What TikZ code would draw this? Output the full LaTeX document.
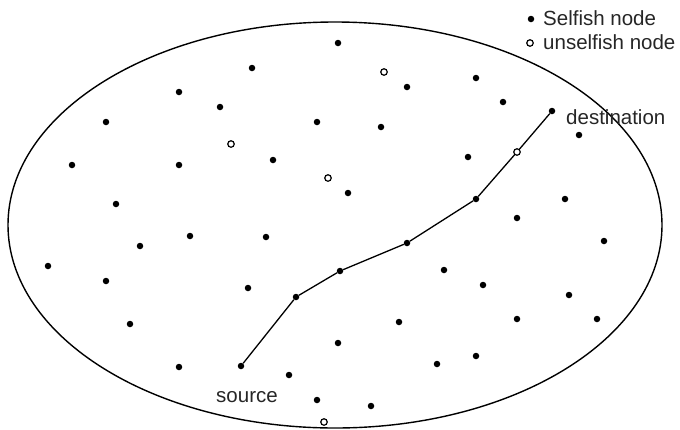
\documentclass[tikz,border=0pt]{standalone}
\usepackage{fontspec}
\setmainfont{Liberation Sans}
\begin{document}
\begin{tikzpicture}[x=1pt,y=-1pt,
  sdot/.style={circle,fill=black,inner sep=0pt,minimum size=6.5pt},
  udot/.style={circle,draw=black,fill=white,line width=1.2pt,inner sep=0pt,minimum size=6.5pt},
  lbl/.style={inner sep=0pt,font=\fontsize{20.5}{24}\selectfont,text=black!85},
  link/.style={line width=1.3pt}]
\useasboundingbox (0,0) rectangle (680,429);
\draw[line width=1.4pt] (335,225) ellipse [x radius=327, y radius=203];
% selfish nodes
\foreach \px/\py [count=\i] in {338/43,252/68,179/92,220/107,106/122,317/122,72/165,179/165,273/160,116/204,
  407/87,476/78,503/102,381/127,579/135,468/157,348/193,565/199,517/218,190/236,
  266/237,140/246,48/266,106/281,248/288,130/324,338/343,179/367,289/375,317/400,
  604/241,444/270,483/285,569/295,399/322,517/319,597/319,437/364,476/356,371/406}
  \node[sdot] (s\i) at (\px,\py) {};
% unselfish nodes
\foreach \px/\py [count=\i] in {231/144,328/178,384/72,324/422}
  \node[udot] (u\i) at (\px,\py) {};
% route
\node[sdot] (src) at (241,366) {};
\node[sdot] (r1) at (296,297) {};
\node[sdot] (r2) at (340,271) {};
\node[sdot] (r3) at (407,243) {};
\node[sdot] (r4) at (476,199) {};
\node[udot] (r5) at (517,152) {};
\node[sdot] (dst) at (552,111) {};
\draw[link] (src) -- (r1) -- (r2) -- (r3) -- (r4) -- (r5) -- (dst);
\node[lbl,anchor=base west] (dlabel) at (566,124) {destination};
\node[lbl,anchor=base] (slabel) at (247,402) {source};
% legend
\node[sdot] (leg1) at (531,19) {};
\node[udot] (leg2) at (530,43) {};
\node[lbl,anchor=base west] (legt1) at (543,25) {Selfish node};
\node[lbl,anchor=base west] (legt2) at (543,49) {unselfish node};
\end{tikzpicture}
\end{document}
